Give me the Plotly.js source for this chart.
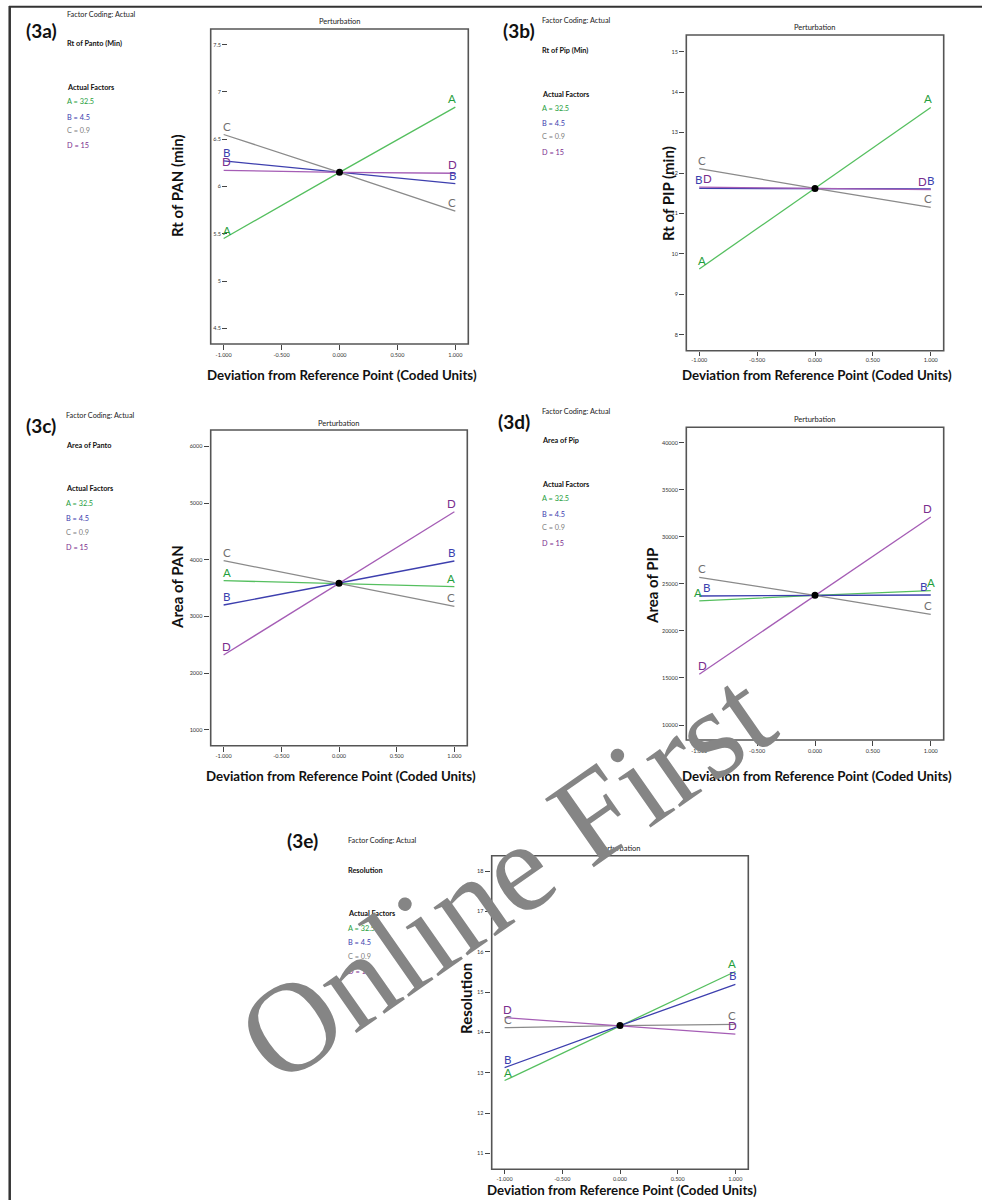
<!DOCTYPE html>
<html><head><meta charset="utf-8">
<script src="https://cdn.plot.ly/plotly-3.0.1.min.js"></script>
<style>html,body{margin:0;padding:0;background:#fff}</style>
</head><body><div id="chart" style="width:982px;height:1200px"></div>
<script>
// ---------- data ----------
const codedX = [-1, 0, 1];
const factorNames = ['A', 'B', 'C', 'D'];
const factorLabels = ['A = 32.5', 'B = 4.5', 'C = 0.9', 'D = 15'];
const xTickVals = [-1, -0.5, 0, 0.5, 1];
const xTickText = ['-1.000', '-0.500', '0.000', '0.500', '1.000'];

// (3a) Rt of PAN (min)
const rtPanA = [5.45, 6.15, 6.84];
const rtPanB = [6.27, 6.15, 6.03];
const rtPanC = [6.55, 6.15, 5.74];
const rtPanD = [6.17, 6.15, 6.14];
const rtPanTicks = [4.5, 5, 5.5, 6, 6.5, 7, 7.5];
const rtPanTickText = ['4.5', '5', '5.5', '6', '6.5', '7', '7.5'];

// (3b) Rt of PIP (min)
const rtPipA = [9.63, 11.62, 13.62];
const rtPipB = [11.62, 11.62, 11.61];
const rtPipC = [12.11, 11.62, 11.15];
const rtPipD = [11.65, 11.62, 11.59];
const rtPipTicks = [8, 9, 10, 11, 12, 13, 14, 15];
const rtPipTickText = ['8', '9', '10', '11', '12', '13', '14', '15'];

// (3c) Area of PAN
const areaPanA = [3632, 3585, 3526];
const areaPanB = [3203, 3585, 3979];
const areaPanC = [3985, 3585, 3180];
const areaPanD = [2322, 3585, 4848];
const areaPanTicks = [1000, 2000, 3000, 4000, 5000, 6000];
const areaPanTickText = ['1000', '2000', '3000', '4000', '5000', '6000'];

// (3d) Area of PIP
const areaPipA = [23180, 23782, 24278];
const areaPipB = [23711, 23782, 23817];
const areaPipC = [25694, 23782, 21763];
const areaPipD = [15390, 23782, 32103];
const areaPipTicks = [10000, 15000, 20000, 25000, 30000, 35000, 40000];
const areaPipTickText = ['10000', '15000', '20000', '25000', '30000', '35000', '40000'];

// (3e) Resolution
const resA = [12.81, 14.17, 15.51];
const resB = [13.13, 14.17, 15.19];
const resC = [14.12, 14.17, 14.20];
const resD = [14.37, 14.17, 13.96];
const resTicks = [11, 12, 13, 14, 15, 16, 17, 18];
const resTickText = ['11', '12', '13', '14', '15', '16', '17', '18'];

// ---------- styling / layout config ----------
const W = 982, H = 1200;
const FONT = 'Lato, "Open Sans", sans-serif';
const lineColors = {A: '#55bf5f', B: '#3d3fae', C: '#8a8a8a', D: '#a55db5'};
const labelColors = {A: '#1f9e3c', B: '#3b3fae', C: '#707070', D: '#7b2d8e'};
const sideColors = {A: '#1f9e3c', B: '#3c3cae', C: '#808080', D: '#7b2e8e'};

const panels = [
  {tag: '(3a)', resp: 'Rt of Panto (Min)', ytitle: 'Rt of PAN (min)',
   series: {A: rtPanA, B: rtPanB, C: rtPanC, D: rtPanD},
   ticks: rtPanTicks, tickText: rtPanTickText, yr: [4.334, 7.666],
   box: [210.7, 468.3, 29, 344], yAxisPx: 227, xTickLen: 5,
   tagPos: [41, 30], textX: 65, textY: [14.3, 43.3, 87.3, 101.7, 117, 131, 145.7],
   ytitlePos: [177, 186], xtitleY: 375, pertY: 21.5, shifts: {}},
  {tag: '(3b)', resp: 'Rt of Pip (Min)', ytitle: 'Rt of PIP (min)',
   series: {A: rtPipA, B: rtPipB, C: rtPipC, D: rtPipD},
   ticks: rtPipTicks, tickText: rtPipTickText, yr: [7.61, 15.41],
   box: [686.3, 943.7, 35, 350.7], yAxisPx: 684, xTickLen: 4,
   tagPos: [519, 30], textX: 540, textY: [21, 50.7, 94.3, 108.7, 123.3, 137, 152.7],
   ytitlePos: [668, 194], xtitleY: 375, pertY: 28, shifts: {Dl: 8, Bl: -1, Dr: -8, Br: 0}},
  {tag: '(3c)', resp: 'Area of Panto', ytitle: 'Area of PAN',
   series: {A: areaPanA, B: areaPanB, C: areaPanC, D: areaPanD},
   ticks: areaPanTicks, tickText: areaPanTickText, yr: [723, 6288],
   box: [210.7, 467.3, 430, 745.7], yAxisPx: 208.5, xTickLen: 5,
   tagPos: [41, 425], textX: 64.3, textY: [415.7, 445, 488.3, 503.3, 518.3, 532.3, 547],
   ytitlePos: [177, 587], xtitleY: 775.7, pertY: 423, shifts: {}},
  {tag: '(3d)', resp: 'Area of Pip', ytitle: 'Area of PIP',
   series: {A: areaPipA, B: areaPipB, C: areaPipC, D: areaPipD},
   ticks: areaPipTicks, tickText: areaPipTickText, yr: [8406, 41636],
   box: [686.3, 943.7, 427.3, 740], yAxisPx: 684, xTickLen: 5,
   tagPos: [514, 421], textX: 540, textY: [412, 441, 484.5, 499, 514, 528, 543],
   ytitlePos: [652, 586], xtitleY: 776, pertY: 419.5, shifts: {Al: -1, Bl: 7, Br: -7, Ar: 0}},
  {tag: '(3e)', resp: 'Resolution', ytitle: 'Resolution',
   series: {A: resA, B: resB, C: resC, D: resD},
   ticks: resTicks, tickText: resTickText, yr: [10.61, 18.38],
   box: [491.7, 748.3, 855.7, 1169.3], yAxisPx: 489.5, xTickLen: 4,
   tagPos: [302, 840.7], textX: 346, textY: [840.7, 870, 913.3, 928.3, 942.3, 956.7, 971.7],
   ytitlePos: [466, 999], xtitleY: 1190, pertY: 848, shifts: {}}
];

const px = v => v / W;
const py = v => 1 - v / H;

const traces = [];
const annotations = [];
const shapes = [];
const layout = {
  width: W, height: H, margin: {l: 0, r: 0, t: 0, b: 0},
  paper_bgcolor: '#fff', plot_bgcolor: 'rgba(0,0,0,0)',
  showlegend: false, font: {family: FONT, color: '#222'}
};

panels.forEach((p, i) => {
  const n = i + 1;
  const xa = 'x' + (n === 1 ? '' : n), ya = 'y' + (n === 1 ? '' : n);
  const xk = 'xaxis' + (n === 1 ? '' : n), yk = 'yaxis' + (n === 1 ? '' : n);
  const [l, r, t, b] = p.box;
  layout[xk] = {
    domain: [px(l), px(r)], range: [-1.112, 1.112], anchor: ya,
    tickvals: xTickVals, ticktext: xTickText, ticks: 'outside', ticklen: p.xTickLen,
    tickcolor: '#444', tickwidth: 1, showline: false, showgrid: false, zeroline: false,
    tickfont: {size: 5.5, color: '#333', family: FONT}, fixedrange: true
  };
  layout[yk] = {
    domain: [py(b), py(t)], range: p.yr, anchor: 'free', position: px(p.yAxisPx),
    tickvals: p.ticks, ticktext: p.tickText, ticks: 'outside', ticklen: 5,
    tickcolor: '#444', tickwidth: 1, showline: false, showgrid: false, zeroline: false,
    tickfont: {size: 5.5, color: '#333', family: FONT}, fixedrange: true
  };
  // frame
  shapes.push({type: 'rect', xref: xa + ' domain', yref: ya + ' domain', x0: 0, x1: 1, y0: 0, y1: 1,
    line: {color: '#555', width: 1.6}, fillcolor: 'rgba(0,0,0,0)'});

  factorNames.forEach(f => {
    const ys = p.series[f];
    traces.push({type: 'scatter', mode: 'lines', x: codedX, y: ys, xaxis: xa, yaxis: ya,
      line: {color: lineColors[f], width: 1.3}, name: f, hoverinfo: 'x+y+name'});
    // end labels
    [[0, 'l', 3], [2, 'r', -3]].forEach(([idx, side, dx]) => {
      const key = f + side;
      const shift = (p.shifts[key] !== undefined) ? p.shifts[key] : dx;
      annotations.push({xref: xa, yref: ya, x: codedX[idx], y: ys[idx], text: f,
        showarrow: false, xanchor: 'center', yanchor: 'bottom', xshift: shift, yshift: 1,
        borderpad: 0, font: {size: 11.5, color: labelColors[f], family: FONT}});
    });
  });
  // center point
  traces.push({type: 'scatter', mode: 'markers', x: [codedX[1]], y: [p.series.A[1]], xaxis: xa, yaxis: ya,
    marker: {color: '#000', size: 7}, name: 'Reference', hoverinfo: 'x+y'});

  // texts
  annotations.push({xref: 'paper', yref: 'paper', x: px((l + r) / 2), y: py(p.pertY), text: 'Perturbation',
    showarrow: false, xanchor: 'center', yanchor: 'middle', font: {size: 7.5, color: '#222', family: FONT}});
  annotations.push({xref: 'paper', yref: 'paper', x: px((l + r) / 2 + 2), y: py(p.xtitleY),
    text: '<b>Deviation from Reference Point (Coded Units)</b>',
    showarrow: false, xanchor: 'center', yanchor: 'middle', font: {size: 13.3, color: '#111', family: FONT}});
  annotations.push({xref: 'paper', yref: 'paper', x: px(p.ytitlePos[0]), y: py(p.ytitlePos[1]),
    text: '<b>' + p.ytitle + '</b>', textangle: -90,
    showarrow: false, xanchor: 'center', yanchor: 'middle', font: {size: 15, color: '#111', family: FONT}});
  annotations.push({xref: 'paper', yref: 'paper', x: px(p.tagPos[0]), y: py(p.tagPos[1]),
    text: '<b>' + p.tag + '</b>',
    showarrow: false, xanchor: 'center', yanchor: 'middle', font: {size: 19, color: '#111', family: FONT}});
  const side = [
    ['Factor Coding: Actual', '#222', false],
    [p.resp, '#111', true],
    ['Actual Factors', '#111', true],
    [factorLabels[0], sideColors.A, false],
    [factorLabels[1], sideColors.B, false],
    [factorLabels[2], sideColors.C, false],
    [factorLabels[3], sideColors.D, false]
  ];
  side.forEach(([txt, col, bold], k) => {
    annotations.push({xref: 'paper', yref: 'paper', x: px(p.textX), y: py(p.textY[k]),
      text: bold ? '<b>' + txt + '</b>' : txt,
      showarrow: false, xanchor: 'left', yanchor: 'middle', font: {size: 7.3, color: col, family: FONT}});
  });
});

// outer border lines
shapes.push({type: 'line', xref: 'paper', yref: 'paper', x0: px(9), x1: 1, y0: py(6.7), y1: py(6.7),
  line: {color: '#333', width: 2}});
shapes.push({type: 'line', xref: 'paper', yref: 'paper', x0: px(9.7), x1: px(9.7), y0: py(6), y1: 0,
  line: {color: '#333', width: 2.5}});

// watermark
annotations.push({xref: 'paper', yref: 'paper', x: px(506), y: py(876), text: 'Online First',
  showarrow: false, textangle: -35, xanchor: 'center', yanchor: 'middle',
  font: {size: 128, color: '#858585', family: '"Liberation Serif", "DejaVu Serif", serif'}});

layout.annotations = annotations;
layout.shapes = shapes;

Plotly.newPlot('chart', traces, layout, {displayModeBar: false, staticPlot: true});
</script></body></html>
